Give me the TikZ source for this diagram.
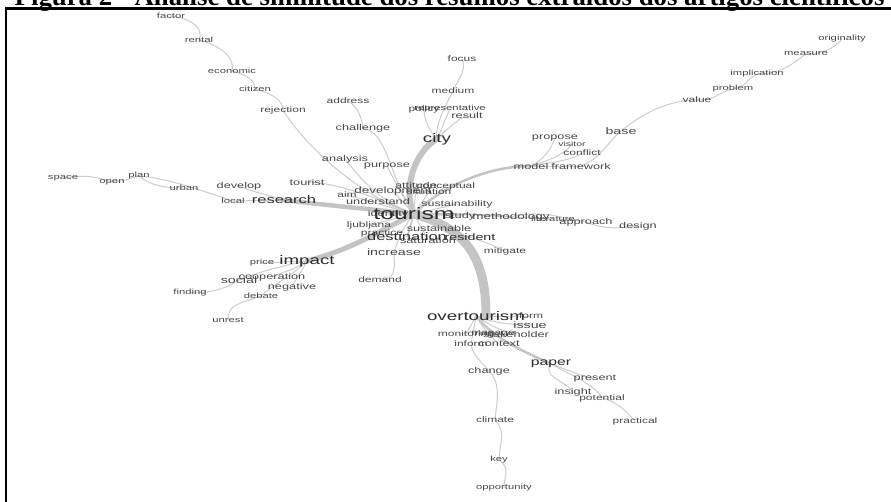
\documentclass[tikz,border=0pt]{standalone}
\usepackage{fontspec}
\setmainfont{Liberation Serif}
\newfontfamily\wordfont[FakeStretch=1.5]{Liberation Sans}
\usetikzlibrary{backgrounds}
\definecolor{edgegray}{HTML}{CDCDCD}
\definecolor{bandgray}{HTML}{C4C4C4}
\definecolor{wordgray}{HTML}{484848}
\definecolor{bigword}{HTML}{2C2C2C}
\tikzset{
  wd/.style={font=\wordfont\fontsize{#1}{#1}\selectfont, text=wordgray, inner sep=0pt},
  wb/.style={font=\wordfont\fontsize{#1}{#1}\selectfont, text=bigword, inner sep=0pt},
  e/.style={draw=edgegray, line width=1pt},
  band/.style={draw=bandgray, line width=#1, line cap=round},
}
\begin{document}
\begin{tikzpicture}[x=1pt,y=-1pt]
\useasboundingbox (0,0) rectangle (891,501);
\clip (0,0) rectangle (891,501);
\begin{scope}[on background layer]
\fill[white] (0,0) rectangle (891,501);
\end{scope}
% title (cut by the top edge)
\node[anchor=base west, inner sep=0pt, font=\bfseries\fontsize{26.8}{30}\selectfont] (title) at (14.5,5)
  {Figura 2 - Análise de similitude dos resumos extraídos dos artigos científicos};
% frame
\draw[line width=2.2pt] (6,503) -- (6,8.5) -- (893,8.5);

% ---------- words ----------
\node[wd=7.5] (factor) at (171,16) {factor};
\node[wd=7.5] (rental) at (199,40) {rental};
\node[wd=7.5] (economic) at (232,71) {economic};
\node[wd=7.5] (citizen) at (255,89) {citizen};
\node[wd=8] (rejection) at (283,110) {rejection};
\node[wd=8] (address) at (348,101) {address};
\node[wd=8.5] (challenge) at (363,128) {challenge};
\node[wd=8.5] (analysis) at (345,159) {analysis};
\node[wd=8.5] (purpose) at (387,166) {purpose};
\node[wb=12.5] (city) at (437,139) {city};
\node[wd=8] (focus) at (462,59) {focus};
\node[wd=8] (medium) at (453,91) {medium};
\node[wd=8] (policy) at (424,109) {policy};
\node[wd=7.5] (representative) at (450,109) {representative};
\node[wd=8.5] (result) at (467,115) {result};
\node[wd=8.5] (propose) at (555,138) {propose};
\node[wd=7] (visitor) at (572,144) {visitor};
\node[wd=8] (conflict) at (582,153) {conflict};
\node[wd=8.5] (model) at (531,166) {model};
\node[wd=8.5] (framework) at (581,166) {framework};
\node[wd=9.5] (base) at (621,131) {base};
\node[wd=8] (value) at (697,100) {value};
\node[wd=7.5] (problem) at (733,89) {problem};
\node[wd=7.5] (implication) at (757,74) {implication};
\node[wd=7.5] (measure) at (806,54) {measure};
\node[wd=7.5] (originality) at (842,39) {originality};

\node[wd=7.5] (space) at (63,178) {space};
\node[wd=7.5] (open) at (112,182) {open};
\node[wd=7.5] (plan) at (139,176) {plan};
\node[wd=7.5] (urban) at (184,188) {urban};
\node[wd=8.5] (develop) at (239,186) {develop};
\node[wd=7.5] (local) at (233,201) {local};
\node[wb=11] (research) at (284,200) {research};
\node[wd=8.5] (tourist) at (307,182) {tourist};
\node[wd=8] (aim) at (347,195) {aim};
\node[wd=8.5] (understand) at (378,201) {understand};
\node[wd=9] (development) at (393,191) {development};
\node[wd=8.5] (attitude) at (416,185) {attitude};
\node[wd=8] (situation) at (429,192) {situation};
\node[wd=8] (conceptual) at (446,186) {conceptual};
\node[wd=8.3] (sustainability) at (457,204) {sustainability};
\node[wd=8.5] (identity) at (388,214) {identity};
\node[wd=8.5] (study) at (460,216) {study};
\node[wd=8] (ljubljana) at (369,225) {ljubljana};
\node[wd=8.5] (sustainable) at (439,228) {sustainable};
\node[wd=8] (practice) at (382,233) {practice};
\node[wd=8.5] (saturation) at (428,240) {saturation};
\node[wb=11] (destination) at (407,237) {destination};
\node[wb=9.5] (resident) at (470,237) {resident};
\node[wb=16.5] (tourism) at (414,214) {tourism};
\node[wd=9] (methodology) at (511,217) {methodology};
\node[wd=7.5] (literature) at (553,219) {literature};
\node[wd=8.5] (approach) at (586,222) {approach};
\node[wd=8.5] (design) at (638,226) {design};
\node[wd=8] (mitigate) at (505,251) {mitigate};
\node[wd=9.5] (increase) at (394,252) {increase};
\node[wd=8] (demand) at (380,280) {demand};

\node[wb=12.5] (impact) at (307,261) {impact};
\node[wd=7.5] (price) at (262,263) {price};
\node[wd=9.5] (social) at (239,280) {social};
\node[wd=8.5] (cooperation) at (272,277) {cooperation};
\node[wd=8.5] (negative) at (292,287) {negative};
\node[wd=7.5] (debate) at (261,296) {debate};
\node[wd=7.5] (finding) at (190,293) {finding};
\node[wd=7.5] (unrest) at (228,320) {unrest};

\node[wb=12.5] (overtourism) at (476,316) {overtourism};
\node[wd=8] (form) at (531,316) {form};
\node[wd=9.5] (issue) at (530,325) {issue};
\node[wd=8] (monitoring) at (466,334) {monitoring};
\node[wd=8] (manage) at (493,334) {manage};
\node[wd=8.5] (stakeholder) at (516,334) {stakeholder};
\node[wd=8] (inform) at (471,344) {inform};
\node[wd=8.5] (context) at (499,344) {context};
\node[wd=8.5] (change) at (489,371) {change};
\node[wb=10.5] (paper) at (551,364) {paper};
\node[wd=8.5] (present) at (595,379) {present};
\node[wd=8.5] (insight) at (573,392) {insight};
\node[wd=8] (potential) at (602,398) {potential};
\node[wd=8] (practical) at (635,421) {practical};
\node[wd=8] (climate) at (495,420) {climate};
\node[wd=7.5] (key) at (499,460) {key};
\node[wd=7.5] (opportunity) at (504,488) {opportunity};

% ---------- edges ----------
\begin{scope}[on background layer]
% thick bands
\draw[band=9pt] (tourism.center) .. controls +(55,15) and +(0,-55) .. ([xshift=10pt]overtourism.center);
\draw[band=6pt] (tourism.center) .. controls +(-12,-25) and +(-22,12) .. (city.center);
\draw[band=4.5pt] (tourism.center) .. controls +(-45,-5) and +(40,5) .. (research.center);
\draw[band=5pt] (tourism.center) .. controls +(-40,20) and +(45,-12) .. (impact.center);
\draw[band=2.5pt] (tourism.center) .. controls +(30,-30) and +(-40,0) .. (model.center);
\draw[band=2pt] (tourism.center) .. controls +(30,0) and +(-25,-3) .. (methodology.center);
\draw[band=2pt] (tourism.center) .. controls +(30,10) and +(-20,-3) .. (resident.center);
\draw[band=2.5pt] (overtourism.center) .. controls +(20,25) and +(-25,-12) .. (paper.center);
\draw[band=1.6pt] (tourism.center) -- (destination.center);
% top-left chain
\draw[e] (factor.center) .. controls +(16,2) and +(6,-14) .. (rental.center);
\draw[e] (rental.center) .. controls +(16,4) and +(4,-16) .. (economic.center);
\draw[e] (economic.center) .. controls +(16,4) and +(0,-8) .. (citizen.center);
\draw[e] (citizen.center) .. controls +(16,4) and +(0,-10) .. (rejection.center);
\draw[e] (rejection.center) .. controls +(18,30) and +(-60,-20) .. (tourism.center);
\draw[e] (address.center) .. controls +(10,6) and +(-2,-12) .. (challenge.center);
\draw[e] (challenge.center) .. controls +(25,5) and +(-26,-40) .. (tourism.center);
\draw[e] (analysis.center) .. controls +(10,12) and +(-40,-15) .. (tourism.center);
\draw[e] (purpose.center) .. controls +(5,10) and +(-10,-15) .. (tourism.center);
% city
\draw[e] (focus.center) .. controls +(5,12) and +(5,-12) .. (medium.center);
\draw[e] (medium.center) .. controls +(-5,10) and +(-3,-14) .. (city.center);
\draw[e] (policy.center) .. controls +(0,10) and +(-8,-8) .. (city.center);
\draw[e] (representative.center) .. controls +(-5,10) and +(5,-10) .. (city.center);
\draw[e] (result.center) .. controls +(-10,5) and +(8,-8) .. (city.center);
% model branch
\draw[e] (propose.center) .. controls +(-5,14) and +(10,-5) .. (model.center);
\draw[e] (visitor.center) .. controls +(-8,12) and +(12,-4) .. (model.center);
\draw[e] (conflict.center) .. controls +(-10,8) and +(14,-3) .. (model.center);
\draw[e] (model.center) -- (framework.center);
\draw[e] (framework.center) .. controls +(18,-6) and +(-12,10) .. (base.center);
\draw[e] (base.center) .. controls +(22,-18) and +(-28,0) .. (value.center);
\draw[e] (value.center) .. controls +(20,0) and +(-15,3) .. (problem.center);
\draw[e] (problem.center) .. controls +(15,-3) and +(-12,6) .. (implication.center);
\draw[e] (implication.center) .. controls +(28,0) and +(-10,6) .. (measure.center);
\draw[e] (measure.center) .. controls +(18,0) and +(-6,8) .. (originality.center);
% left branch
\draw[e] (space.center) .. controls +(25,-4) and +(-12,-4) .. (open.center);
\draw[e] (open.center) .. controls +(10,0) and +(-8,2) .. (plan.center);
\draw[e] (plan.center) .. controls +(12,10) and +(-18,0) .. (urban.center);
\draw[e] (plan.center) .. controls +(30,2) and +(-25,-8) .. (local.center);
\draw[e] (local.center) -- (research.center);
\draw[e] (develop.center) .. controls +(12,5) and +(-18,-5) .. (research.center);
\draw[e] (tourist.center) .. controls +(25,0) and +(-40,-18) .. (tourism.center);
% near words
\draw[e] (aim.center) -- (tourism.center);
\draw[e] (understand.center) -- (tourism.center);
\draw[e] (development.center) -- (tourism.center);
\draw[e] (attitude.center) -- (tourism.center);
\draw[e] (situation.center) -- (tourism.center);
\draw[e] (conceptual.center) -- (tourism.center);
\draw[e] (sustainability.center) -- (tourism.center);
\draw[e] (identity.center) -- (tourism.center);
\draw[e] (study.center) -- (tourism.center);
\draw[e] (ljubljana.center) -- (tourism.center);
\draw[e] (sustainable.center) -- (tourism.center);
\draw[e] (practice.center) -- (tourism.center);
\draw[e] (saturation.center) -- (tourism.center);
\draw[e] (literature.center) -- (methodology.center);
\draw[e] (methodology.center) .. controls +(32,-8) and +(-22,-3) .. (approach.center);
\draw[e] (approach.center) .. controls +(18,8) and +(-14,2) .. (design.center);
\draw[e] (resident.center) .. controls +(15,5) and +(-10,-5) .. (mitigate.center);
\draw[e] (increase.center) .. controls +(5,-15) and +(-10,12) .. (tourism.center);
\draw[e] (demand.center) .. controls +(18,0) and +(0,12) .. (increase.center);
% impact
\draw[e] (impact.center) .. controls +(-15,0) and +(10,0) .. (price.center);
\draw[e] (impact.center) .. controls +(-30,6) and +(20,-8) .. (social.center);
\draw[e] (impact.center) .. controls +(-10,8) and +(10,-5) .. (cooperation.center);
\draw[e] (impact.center) .. controls +(-5,10) and +(5,-10) .. (negative.center);
\draw[e] (social.center) .. controls +(-15,10) and +(18,0) .. (finding.center);
\draw[e] (impact.center) .. controls +(-15,15) and +(10,-10) .. (debate.center);
\draw[e] (debate.center) .. controls +(-22,8) and +(0,-16) .. (unrest.center);
% overtourism
\draw[e] (overtourism.center) -- (form.center);
\draw[e] (overtourism.center) .. controls +(20,8) and +(-12,0) .. (issue.center);
\draw[e] (overtourism.center) -- (monitoring.center);
\draw[e] (overtourism.center) -- (manage.center);
\draw[e] (overtourism.center) .. controls +(15,10) and +(-15,-3) .. (stakeholder.center);
\draw[e] (overtourism.center) -- (inform.center);
\draw[e] (overtourism.center) .. controls +(8,14) and +(-6,-6) .. (context.center);
\draw[e] (inform.center) .. controls +(2,12) and +(-8,-10) .. (change.center);
\draw[e] (change.center) .. controls +(12,12) and +(2,-20) .. (climate.center);
\draw[e] (climate.center) .. controls +(12,12) and +(0,-14) .. (key.center);
\draw[e] (key.center) .. controls +(12,8) and +(0,-12) .. (opportunity.center);
% paper
\draw[e] (paper.center) .. controls +(15,5) and +(-15,-3) .. (present.center);
\draw[e] (paper.center) .. controls +(-10,12) and +(-6,-10) .. (insight.center);
\draw[e] (paper.center) .. controls +(18,10) and +(-5,-12) .. (potential.center);
\draw[e] (potential.center) .. controls +(18,5) and +(-10,-10) .. (practical.center);
\end{scope}
\end{tikzpicture}
\end{document}
